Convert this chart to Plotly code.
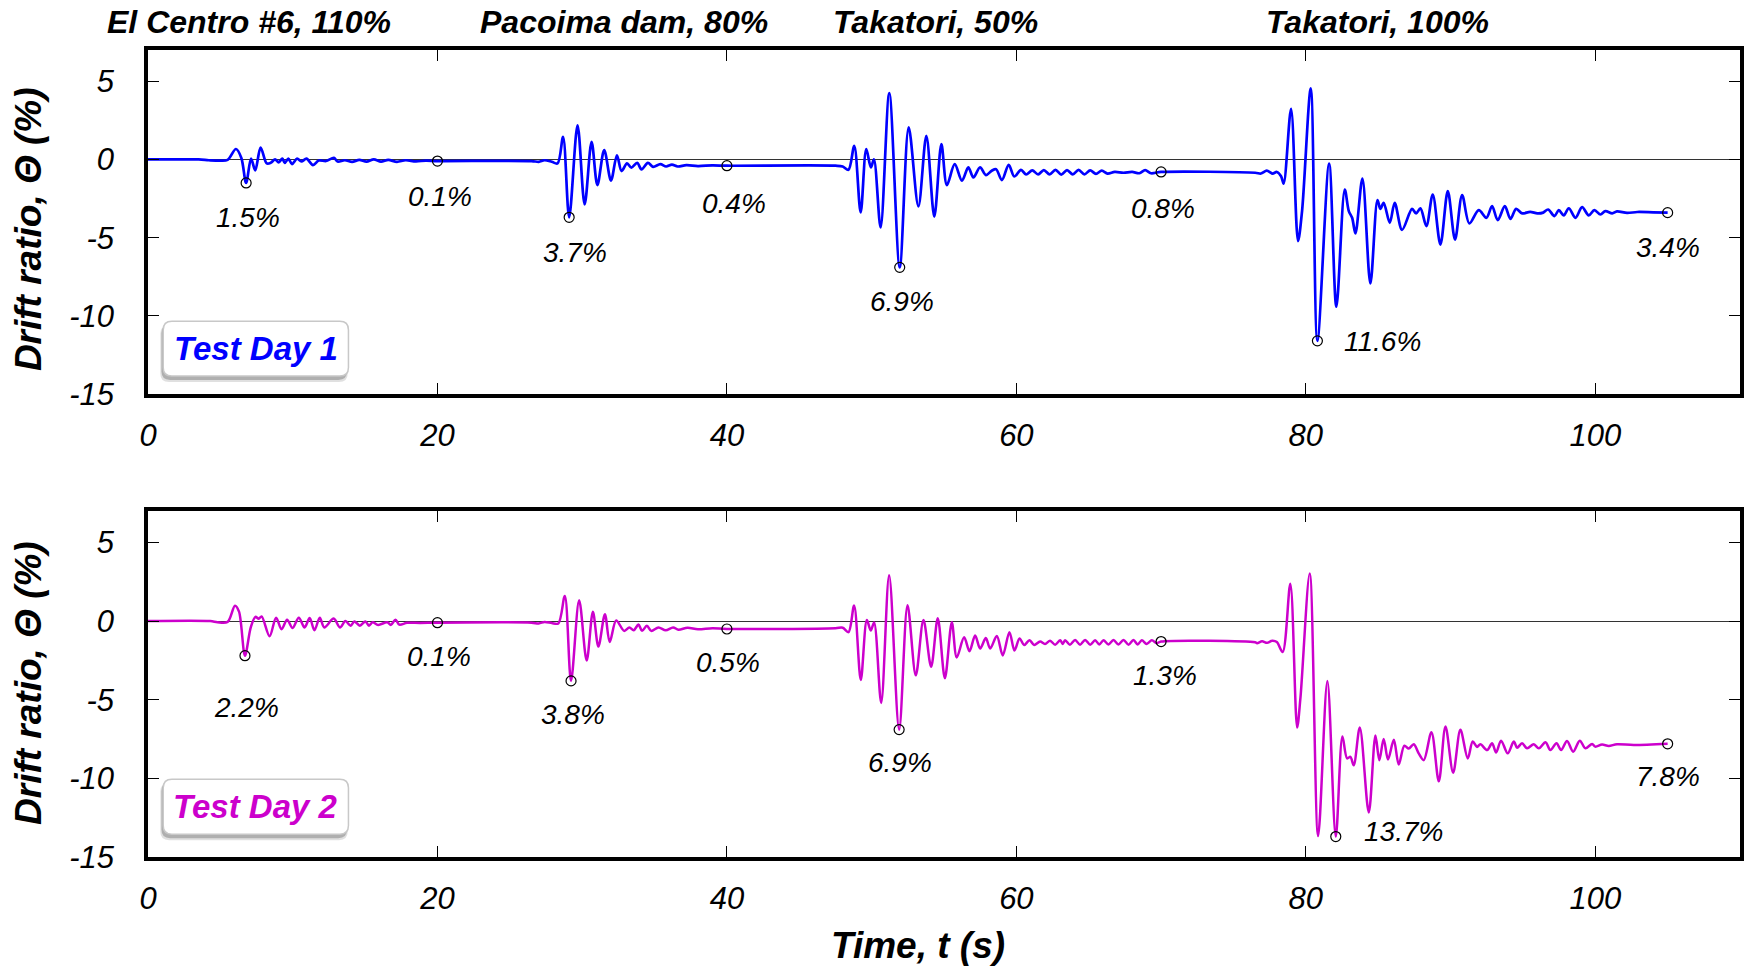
import plotly.graph_objects as go

# ---------------- data ----------------
t_day1 = [0, 3.5, 4.2, 5.0, 5.5,
          6.08, 6.45, 6.78, 7.12, 7.41, 7.78, 8.2, 8.5, 8.78, 9.03, 9.28, 9.45, 9.7, 9.95, 10.3,
          10.6, 10.95, 11.4, 11.8, 12.3, 12.85, 13.1, 13.6, 14.1, 14.6, 15.1, 15.6, 16.1, 16.6,
          17.2, 17.8, 18.5, 19.2, 20.0,
          26.5, 27.0, 27.4, 27.9, 28.3,
          28.68, 29.1, 29.68, 30.17, 30.65, 31.05, 31.52, 31.99, 32.4, 32.72, 33.1, 33.4, 33.8,
          34.1, 34.54, 34.9, 35.4, 35.8, 36.2, 36.6, 37.2, 38.0, 39.0, 40.0,
          47.5, 48.0, 48.4,
          48.8, 49.24, 49.63, 49.95, 50.16, 50.62, 51.22, 51.94, 52.56, 53.23, 53.78, 54.33, 54.82,
          55.2, 55.74, 56.24, 56.68, 57.03, 57.49, 57.9, 58.3, 58.6, 59.0, 59.47, 59.86, 60.32,
          60.67, 61.1, 61.5, 61.9, 62.3, 62.7, 63.1, 63.5, 63.9, 64.3, 64.7, 65.1, 65.5, 65.9,
          66.3, 66.8, 67.4, 68.0, 68.5, 68.9, 69.3, 70.0,
          76.5, 76.9, 77.3, 77.7, 78.0, 78.29, 78.47,
          78.98, 79.46, 79.74, 80.34, 80.8, 81.61, 82.11, 82.69, 82.97, 83.2, 83.43, 83.91, 84.46,
          84.95, 85.15, 85.38, 85.8, 86.14, 86.65, 87.34, 87.62, 87.92, 88.33, 88.77, 89.3, 89.81,
          90.31, 90.8, 91.3, 91.95, 92.48, 92.87, 93.26, 93.75, 94.14, 94.53, 94.95, 95.5, 96.0,
          96.4, 96.74, 97.18, 97.48, 97.82, 98.17, 98.63, 99.09, 99.55, 99.94, 100.36, 100.7,
          101.17, 101.5, 102.2, 102.9, 104.0, 105.0]
d_day1 = [0, 0, -0.05, -0.08, -0.03,
          0.67, 0.1, -1.5, 0.05, -0.7, 0.76, -0.25, -0.2, 0.0, -0.18, 0.05, -0.22, 0.05, -0.3, 0.05,
          -0.13, 0.05, -0.36, -0.07, -0.1, 0.1, -0.13, -0.05, -0.15, -0.03, -0.14, 0.0, -0.14, -0.03,
          -0.15, -0.05, -0.12, -0.08, -0.1,
          -0.1, -0.15, -0.05, -0.15, -0.25,
          1.44, -3.7, 2.18, -2.88, 1.12, -1.64, 0.6, -1.35, 0.27, -0.74, -0.25, -0.52, -0.22,
          -0.63, -0.22, -0.47, -0.3, -0.45, -0.33, -0.45, -0.36, -0.42, -0.38, -0.4,
          -0.4, -0.45, -0.66,
          0.87, -3.39, 0.66, -0.51, 0.0, -4.35, 4.24, -6.9, 2.05, -3.0, 1.51, -3.65, 0.98,
          -1.64, -0.3, -1.36, -0.51, -1.15, -0.51, -1.0, -0.72, -0.62, -1.32, -0.34, -1.09, -0.66,
          -0.96, -0.7, -0.95, -0.68, -0.95, -0.66, -0.97, -0.68, -0.95, -0.67, -0.95, -0.7, -0.92, -0.72,
          -0.9, -0.8, -0.85, -0.8, -0.88, -0.68, -0.88, -0.8,
          -0.85, -0.9, -0.72, -0.9, -0.8, -1.07, -1.54,
          3.24, -5.22, -3.3, 4.54, -11.6, -0.26, -9.42, -1.92, -3.3, -3.73, -4.73, -1.22, -7.93,
          -2.6, -3.16, -2.77, -4.05, -2.77, -4.5, -3.16, -3.45, -3.13, -4.26, -2.24, -5.44, -2.03,
          -5.12, -2.28, -4.09, -3.24, -3.73, -2.99, -3.88, -2.99, -3.8, -3.16, -3.45, -3.35, -3.45,
          -3.4, -3.2, -3.62, -3.24, -3.58, -3.12, -3.73, -3.05, -3.58, -3.24, -3.52, -3.3,
          -3.45, -3.32, -3.42, -3.36, -3.38, -3.4]

t_day2 = [0, 4.3, 4.8, 5.5,
          6.01, 6.29, 6.7, 7.1, 7.42, 7.65, 7.85, 8.4, 8.85, 9.23, 9.61, 9.99, 10.42, 10.82, 11.17,
          11.5, 11.87, 12.18, 12.83, 13.26, 13.64, 14.0, 14.26, 14.64, 15.02, 15.27, 15.52, 15.9,
          16.53, 16.78, 17.1, 17.36, 17.9, 18.8, 20.0,
          26.5, 27.0, 27.4, 27.9, 28.35,
          28.8, 29.23, 29.79, 30.31, 30.74, 31.12, 31.57, 31.9, 32.35, 32.9, 33.26, 33.56, 33.89,
          34.14, 34.47, 34.77, 35.27, 35.77, 36.28, 36.65, 37.28, 38.0, 39.0, 40.0,
          47.5, 48.0, 48.4,
          48.79, 49.25, 49.67, 49.94, 50.17, 50.66, 51.21, 51.9, 52.48, 53.05, 53.58, 54.11, 54.57,
          55.06, 55.54, 55.88, 56.39, 56.76, 57.15, 57.5, 57.89, 58.19, 58.65, 59.06, 59.52, 59.87,
          60.22, 60.54, 60.91, 61.23,
          61.64, 61.98, 62.33, 62.68, 63.03, 63.2, 63.37, 63.7, 64.06, 64.4, 64.75, 65.1, 65.44,
          65.73, 66.02, 66.36, 66.71, 67.05, 67.4, 67.75, 68.09, 68.38, 68.67, 69.0, 69.36, 69.7, 70.0,
          76.5, 76.63, 76.98, 77.32, 77.67, 78.0, 78.4,
          78.93, 79.4, 79.63, 80.27, 80.85, 81.49, 82.07, 82.53, 82.85, 83.08, 83.31, 83.73, 84.35,
          84.81, 85.08, 85.38, 85.68, 86.08, 86.42, 86.81, 87.11, 87.46, 87.8, 88.15, 88.68, 89.19,
          89.65, 90.18, 90.68, 91.19, 91.53, 91.83, 92.06, 92.53, 92.87, 93.15, 93.49, 93.95, 94.37,
          94.6, 94.94, 95.29, 95.75, 96.1, 96.56, 96.9, 97.32, 97.64, 98.05, 98.47, 98.93, 99.32,
          99.78, 100.0, 100.47, 100.93, 101.5, 102.66, 105.0]
d_day2 = [0, 0, -0.07, -0.05,
          0.98, 0.6, -2.2, -0.4, 0.27, 0.15, 0.3, -0.96, 0.22, -0.51, 0.09, -0.44, 0.22, -0.4, 0.2,
          -0.58, 0.22, -0.4, 0.16, -0.4, 0.0, -0.29, -0.02, -0.29, -0.02, -0.29, -0.07, -0.24,
          -0.07, -0.24, 0.09, -0.22, -0.11, -0.12, -0.1,
          -0.1, -0.15, -0.05, -0.12, -0.15,
          1.6, -3.8, 1.33, -2.51, 0.6, -1.62, 0.44, -1.33, 0.04, -0.62, -0.4, -0.58, -0.22,
          -0.62, -0.29, -0.62, -0.4, -0.58, -0.4, -0.55, -0.42, -0.52, -0.45, -0.5,
          -0.45, -0.42, -0.7,
          0.99, -3.74, 0.07, -0.59, -0.09, -5.2, 2.92, -6.9, 1.01, -3.45, 0.07, -2.9, 0.18,
          -3.63, -0.07, -2.31, -1.03, -1.91, -0.92, -1.74, -1.08, -1.74, -0.95, -2.18, -0.7, -1.87,
          -1.1, -1.52, -1.21, -1.52,
          -1.3, -1.45, -1.25, -1.5, -1.22, -1.45, -1.22, -1.5, -1.2, -1.5, -1.2, -1.5, -1.22,
          -1.48, -1.22, -1.48, -1.2, -1.48, -1.2, -1.5, -1.2, -1.48, -1.22, -1.45, -1.22, -1.4, -1.3,
          -1.35, -1.4, -1.28, -1.38, -1.25, -1.33, -1.97,
          2.38, -6.76, -4.87, 3.03, -13.67, -3.8, -13.7, -7.34, -8.73, -8.63, -9.17, -6.76, -12.17,
          -7.27, -8.84, -7.49, -8.8, -7.55, -9.12, -7.92, -8.1, -7.83, -8.41, -8.84, -7.06, -10.19,
          -6.7, -9.64, -6.91, -8.73, -7.66, -8.0, -7.83, -8.2, -7.77, -8.35, -7.6, -8.41, -7.66,
          -8.05, -7.77, -8.09, -7.83, -8.09, -7.7, -8.2, -7.77, -8.2, -7.62, -8.3, -7.6, -8.09,
          -7.81, -7.98, -7.85, -7.94, -7.83, -7.88, -7.8]

# marked values: peak drift and residual drift for each motion
mark_t_day1 = [6.78, 20.0, 29.1, 40.0, 51.94, 70.0, 80.8, 105.0]
mark_d_day1 = [-1.5, -0.1, -3.7, -0.4, -6.9, -0.8, -11.6, -3.4]
mark_t_day2 = [6.7, 20.0, 29.23, 40.0, 51.9, 70.0, 82.07, 105.0]
mark_d_day2 = [-2.2, -0.1, -3.8, -0.5, -6.9, -1.3, -13.7, -7.8]

motions = ["El Centro #6, 110%", "Pacoima dam, 80%", "Takatori, 50%", "Takatori, 100%"]
x_ticks = [0, 20, 40, 60, 80, 100]
y_ticks = [-15, -10, -5, 0, 5]

# ---------------- layout helpers ----------------
FONT = "Liberation Sans"
BLUE = "#0000FF"
MAG = "#CC00CC"

# label positions (layout) for the percentage labels
lab_pos_day1 = [(6.91, -3.74), (20.18, -2.40), (29.5, -5.98), (40.5, -2.79),
                (52.1, -9.11), (70.13, -3.11), (85.3, -11.61), (105.02, -5.6)]
lab_pos_day2 = [(6.84, -5.5), (20.1, -2.22), (29.36, -5.91), (40.08, -2.66),
                (51.96, -8.96), (70.27, -3.49), (86.72, -13.35), (105.02, -9.86)]
title_x = [0.0634, 0.2990, 0.4944, 0.7726]

fig = go.Figure()

fig.add_trace(go.Scatter(x=t_day1, y=d_day1, mode="lines", xaxis="x", yaxis="y",
                         line=dict(color=BLUE, width=2.7, shape="spline", smoothing=0.9),
                         showlegend=False, hoverinfo="skip"))
fig.add_trace(go.Scatter(x=t_day2, y=d_day2, mode="lines", xaxis="x2", yaxis="y2",
                         line=dict(color=MAG, width=2.5, shape="spline", smoothing=0.9),
                         showlegend=False, hoverinfo="skip"))
fig.add_trace(go.Scatter(x=mark_t_day1, y=mark_d_day1, mode="markers", xaxis="x", yaxis="y",
                         marker=dict(symbol="circle-open", size=10, color="black", line=dict(width=1.2)),
                         showlegend=False, hoverinfo="skip"))
fig.add_trace(go.Scatter(x=mark_t_day2, y=mark_d_day2, mode="markers", xaxis="x2", yaxis="y2",
                         marker=dict(symbol="circle-open", size=10, color="black", line=dict(width=1.2)),
                         showlegend=False, hoverinfo="skip"))

axis_common = dict(showline=True, linewidth=3.5, linecolor="black", mirror="ticks",
                   ticks="inside", ticklen=11, tickwidth=1.2, tickcolor="black",
                   showgrid=False, automargin=False,
                   tickfont=dict(family=FONT, size=31, color="black", style="italic"))

xax = dict(axis_common, range=[0, 110], tickvals=x_ticks, ticktext=[str(v) for v in x_ticks],
           zeroline=False, ticklabelstandoff=11)
yax = dict(axis_common, range=[-15, 7], tickvals=y_ticks, ticktext=[str(v) for v in y_ticks],
           zeroline=True, zerolinecolor="#333333", zerolinewidth=1.3, ticklabelstandoff=24)

fig.update_layout(
    width=1746, height=967,
    margin=dict(l=148, r=6, t=50, b=110),
    paper_bgcolor="white", plot_bgcolor="white",
    xaxis=dict(xax, domain=[0, 1], anchor="y"),
    yaxis=dict(yax, domain=[0.5737, 1], anchor="x"),
    xaxis2=dict(xax, domain=[0, 1], anchor="y2"),
    yaxis2=dict(yax, domain=[0, 0.4287], anchor="x2"),
)


def rounded(x0, x1, y0, y1, rx, ry):
    return (f"M {x0+rx},{y1} L {x1-rx},{y1} Q {x1},{y1} {x1},{y1-ry} "
            f"L {x1},{y0+ry} Q {x1},{y0} {x1-rx},{y0} L {x0+rx},{y0} "
            f"Q {x0},{y0} {x0},{y0+ry} L {x0},{y1-ry} Q {x0},{y1} {x0+rx},{y1} Z")


shapes = []
boxes = [("x", "y", -13.85, -10.35, "Test Day 1", BLUE),
         ("x2", "y2", -13.55, -10.05, "Test Day 2", MAG)]
annotations = []
for xr, yr, yb, yt, txt, col in boxes:
    x0, x1 = 1.05, 13.85
    # soft shadow
    shapes.append(dict(type="path", xref=xr, yref=yr, layer="above",
                       path=rounded(x0 - 0.2, x1 - 0.05, yb - 0.38, yt - 0.25, 0.6, 0.55),
                       fillcolor="rgba(0,0,0,0.12)", line=dict(width=0)))
    shapes.append(dict(type="path", xref=xr, yref=yr, layer="above",
                       path=rounded(x0 - 0.12, x1 - 0.1, yb - 0.25, yt - 0.2, 0.6, 0.55),
                       fillcolor="rgba(0,0,0,0.22)", line=dict(width=0)))
    shapes.append(dict(type="path", xref=xr, yref=yr, layer="above",
                       path=rounded(x0, x1, yb, yt, 0.6, 0.55),
                       fillcolor="white", line=dict(color="#C8C8C8", width=1.5)))
    annotations.append(dict(x=(x0 + x1) / 2, y=(yb + yt) / 2, xref=xr, yref=yr,
                            text=txt, showarrow=False, xanchor="center", yanchor="middle",
                            font=dict(family=FONT, size=33, color=col, weight="bold", style="italic")))

for (px, py), v in zip(lab_pos_day1, mark_d_day1):
    annotations.append(dict(x=px, y=py, xref="x", yref="y", text=f"{abs(v):.1f}%", showarrow=False,
                            xanchor="center", yanchor="middle",
                            font=dict(family=FONT, size=28, color="black", style="italic")))
for (px, py), v in zip(lab_pos_day2, mark_d_day2):
    annotations.append(dict(x=px, y=py, xref="x2", yref="y2", text=f"{abs(v):.1f}%", showarrow=False,
                            xanchor="center", yanchor="middle",
                            font=dict(family=FONT, size=28, color="black", style="italic")))

for name, tx in zip(motions, title_x):
    annotations.append(dict(x=tx, y=1.0347, xref="paper", yref="paper", text=name, showarrow=False,
                            xanchor="center", yanchor="middle",
                            font=dict(family=FONT, size=32, color="black", weight="bold", style="italic")))

for yc in [0.778, 0.2156]:
    annotations.append(dict(x=-0.0754, y=yc, xref="paper", yref="paper", text="Drift ratio, Θ (%)",
                            textangle=-90, showarrow=False, xanchor="center", yanchor="middle",
                            font=dict(family=FONT, size=37, color="black", weight="bold", style="italic")))

annotations.append(dict(x=0.4837, y=-0.110, xref="paper", yref="paper", text="Time, t (s)",
                        showarrow=False, xanchor="center", yanchor="middle",
                        font=dict(family=FONT, size=37, color="black", weight="bold", style="italic")))

fig.update_layout(shapes=shapes, annotations=annotations)
# remove the default page-body margin so the figure fills the window exactly
fig.write_html("out.html", config={"displayModeBar": False},
               post_script="document.body.style.margin='0px';")
